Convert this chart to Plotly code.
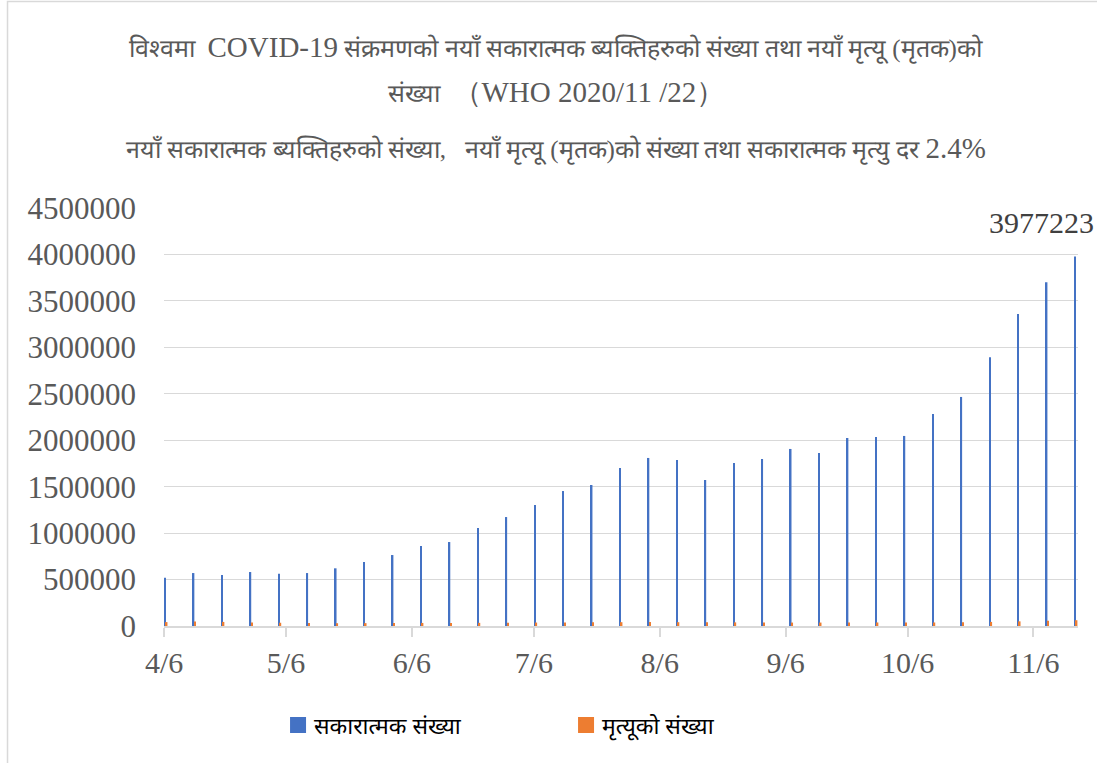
import plotly.graph_objects as go
import pandas as pd

week_start = pd.date_range("2020-04-06", periods=33, freq="7D")
positives = [520000, 570000, 549000, 581000, 563000, 570000, 621000, 689000,
             764000, 861000, 904000, 1055000, 1173000, 1303000, 1453000, 1518000,
             1701000, 1809000, 1787000, 1572000, 1755000, 1798000, 1906000, 1863000,
             2024000, 2035000, 2046000, 2282000, 2466000, 2893000, 3359000, 3700000,
             3977223]
deaths = [42000, 48000, 44000, 38000, 35000, 32000, 30000, 31000,
          32000, 33000, 33000, 34000, 35000, 37000, 38000, 40000,
          41000, 42000, 41000, 40000, 39000, 38000, 37000, 37000,
          38000, 38000, 37000, 38000, 40000, 44000, 50000, 56000,
          62000]
series_names = ["सकारात्मक संख्या", "मृत्यूको संख्या"]
series_colors = ["#4472C4", "#ED7D31"]
tick_dates = pd.date_range("2020-04-01", periods=8, freq="MS") + pd.Timedelta(days=5)
tick_labels = ["4/6", "5/6", "6/6", "7/6", "8/6", "9/6", "10/6", "11/6"]

L = '<span style="font-size:29px">'
E = '</span>'
title_lines = [
    "विश्वमा  " + L + "COVID-19" + E + " संक्रमणको नयाँ सकारात्मक ब्यक्तिहरुको संख्या तथा नयाँ मृत्यू (मृतक)को",
    "संख्या  " + L + "（WHO 2020/11 /22）" + E,
    "नयाँ सकारात्मक ब्यक्तिहरुको संख्या,   नयाँ मृत्यू (मृतक)को संख्या तथा सकारात्मक मृत्यु दर " + L + "2.4%" + E,
]

DAY = 86400000
fig = go.Figure()
fig.add_trace(go.Bar(x=week_start, y=positives, name=series_names[0],
                     marker=dict(color=series_colors[0], line=dict(width=0)),
                     width=0.38 * DAY, offset=0.05 * DAY))
fig.add_trace(go.Bar(x=week_start, y=deaths, name=series_names[1],
                     marker=dict(color=series_colors[1], line=dict(width=0)),
                     width=0.38 * DAY, offset=0.43 * DAY))

serif = "Liberation Serif, Times New Roman, serif"
title_y = [1.385, 1.2775, 1.1435]
annotations = []
for t, yy in zip(title_lines, title_y):
    annotations.append(dict(text=t, xref="paper", yref="paper", x=0.4289, y=yy,
                            xanchor="center", yanchor="middle", showarrow=False,
                            font=dict(family=serif, size=25, color="#595959")))
annotations.append(dict(text=str(positives[-1]), x=week_start[-1], y=positives[-1],
                        xref="x", yref="y", xanchor="right", yanchor="bottom",
                        xshift=22, yshift=16, showarrow=False,
                        font=dict(family=serif, size=30, color="#404040")))

# custom legend (square swatches + labels, as in the original)
shapes = [dict(type="rect", xref="paper", yref="paper", x0=-0.1712, x1=1.05,
               y0=-0.4, y1=1.494, line=dict(color="#D9D9D9", width=1.5),
               fillcolor="rgba(0,0,0,0)", layer="below")]
legend_x = [0.1379, 0.4530]
for name, col, lx in zip(series_names, series_colors, legend_x):
    shapes.append(dict(type="rect", xref="paper", yref="paper",
                       xsizemode="pixel", xanchor=lx, x0=0, x1=16,
                       ysizemode="pixel", yanchor=-0.2368, y0=-8, y1=8,
                       line=dict(width=0), fillcolor=col))
    annotations.append(dict(text=name, xref="paper", yref="paper", x=lx + 0.024,
                            y=-0.2368, xanchor="left", yanchor="middle", showarrow=False,
                            font=dict(family="Noto Sans, sans-serif", size=23,
                                      color="#000000")))

fig.update_layout(
    width=1097, height=763,
    margin=dict(l=164, r=19, t=208, b=137),
    paper_bgcolor="white", plot_bgcolor="white",
    barmode="overlay",
    showlegend=False,
    annotations=annotations,
    shapes=shapes,
    xaxis=dict(type="date",
               range=[pd.Timestamp("2020-04-05 23:00"), pd.Timestamp("2020-11-16 23:00")],
               tickvals=tick_dates, ticktext=tick_labels,
               ticks="outside", ticklen=9, tickwidth=2, tickcolor="#D9D9D9",
               showline=True, linecolor="#D9D9D9", linewidth=2,
               showgrid=False, zeroline=False,
               tickfont=dict(family=serif, size=30, color="#595959")),
    yaxis=dict(range=[0, 4500000], dtick=500000, tickformat="d",
               showgrid=True, gridcolor="#D9D9D9", gridwidth=1,
               zeroline=False, showline=False, ticks="",
               ticklabelstandoff=27,
               tickfont=dict(family=serif, size=31, color="#595959")),
)

fig.write_html("out.html", config={"displayModeBar": False},
               post_script="document.body.style.margin='0px';")
